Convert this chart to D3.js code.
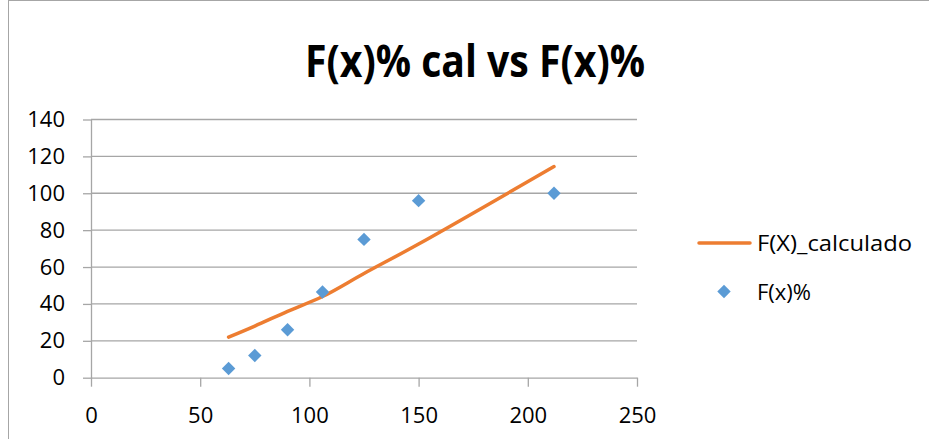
<!DOCTYPE html>
<html>
<head>
<meta charset="utf-8">
<script src="https://cdn.jsdelivr.net/npm/d3@7"></script>
<style>
body { margin: 0; background: #fff; }
text { font-family: "Open Sans", sans-serif; fill: #000; }
</style>
</head>
<body>
<script>
width = 929;
height = 439;

// data
var xValues = [63, 75, 90, 106, 125, 150, 212];
var fxPercent = [5, 12, 26, 46.5, 75, 96, 100];
var fxCalculado = [22, 28, 36, 44, 56.5, 72.5, 114.5];
var xTicks = [0, 50, 100, 150, 200, 250];
var yTicks = [0, 20, 40, 60, 80, 100, 120, 140];
var seriesNames = ["F(X)_calculado", "F(x)%"];
var title = "F(x)% cal vs F(x)%";

var orange = "#ED7D31", blue = "#5B9BD5", axisGray = "#A6A6A6";

var svg = d3.select("body")
.append("svg")
.attr("width", width)
.attr("height", height);

// chart area border
svg.append("rect")
.attr("x", 8.5).attr("y", 0.5)
.attr("width", 960).attr("height", 480)
.attr("fill", "none")
.attr("stroke", "#A6A6A6")
.attr("stroke-width", 1);

var plot = {left: 91, right: 637, top: 119.5, bottom: 377.7};

var xScale = d3.scaleLinear()
.domain([0, 250])
.range([plot.left, plot.right]);

var yScale = d3.scaleLinear()
.domain([0, 140])
.range([plot.bottom, plot.top]);

// gridlines
svg.append("g")
.selectAll("line")
.data(yTicks.filter(function(d){ return d > 0; }))
.enter()
.append("line")
.attr("x1", plot.left).attr("x2", plot.right)
.attr("y1", function(d){ return yScale(d); })
.attr("y2", function(d){ return yScale(d); })
.attr("stroke", axisGray)
.attr("stroke-width", 1.3);

var xAxis = d3.axisBottom(xScale)
.tickValues(xTicks)
.tickSize(9)
.tickPadding(21)
.tickSizeOuter(0);

var yAxis = d3.axisLeft(yScale)
.tickValues(yTicks)
.tickSize(8)
.tickPadding(18)
.tickSizeOuter(0);

var gx = svg.append("g")
.attr("transform", "translate(0," + plot.bottom + ")")
.call(xAxis);

var gy = svg.append("g")
.attr("transform", "translate(" + plot.left + ",0)")
.call(yAxis);

[gx, gy].forEach(function(g){
	g.selectAll("path, line").attr("stroke", axisGray).attr("stroke-width", 1.3);
	g.selectAll("text")
	.style("font-family", "'Open Sans', sans-serif")
	.attr("font-size", 22)
	.attr("fill", "#000");
});

// calculated line
var linePath = d3.line()
.x(function(d){ return xScale(d[0]); })
.y(function(d){ return yScale(d[1]); })
.curve(d3.curveCatmullRom.alpha(0.5));

svg.append("path")
.attr("d", linePath(d3.zip(xValues, fxCalculado)))
.attr("fill", "none")
.attr("stroke", orange)
.attr("stroke-width", 3.5)
.attr("stroke-linecap", "round");

// measured points
var diamond = d3.symbol().type(d3.symbolSquare).size(90);

svg.append("g")
.selectAll("path")
.data(d3.zip(xValues, fxPercent))
.enter()
.append("path")
.attr("d", diamond)
.attr("transform", function(d){
	return "translate(" + xScale(d[0]) + "," + yScale(d[1]) + ") rotate(45)";
})
.attr("fill", blue);

// title
svg.append("text")
.attr("x", 475)
.attr("y", 77)
.attr("text-anchor", "middle")
.attr("font-size", 44)
.attr("font-weight", "bold")
.attr("textLength", 340)
.attr("lengthAdjust", "spacingAndGlyphs")
.text(title);

// legend
var legend = svg.append("g");
legend.append("line")
.attr("x1", 699).attr("x2", 750)
.attr("y1", 243).attr("y2", 243)
.attr("stroke", orange)
.attr("stroke-width", 3.5)
.attr("stroke-linecap", "round");
legend.append("text")
.attr("x", 757).attr("y", 251)
.attr("font-size", 22)
.attr("textLength", 155)
.attr("lengthAdjust", "spacingAndGlyphs")
.text(seriesNames[0]);
legend.append("path")
.attr("d", diamond)
.attr("transform", "translate(724,291.5) rotate(45)")
.attr("fill", blue);
legend.append("text")
.attr("x", 757).attr("y", 300)
.attr("font-size", 22)
.text(seriesNames[1]);
</script>
</body>
</html>
